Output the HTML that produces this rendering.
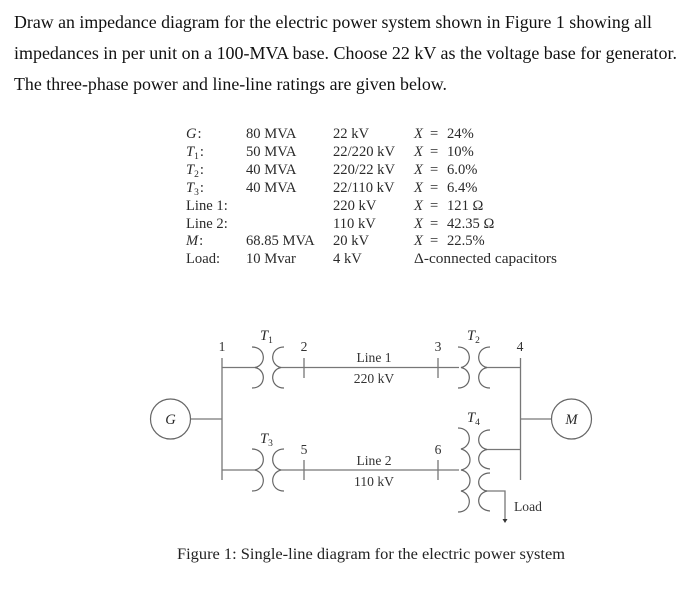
<!DOCTYPE html>
<html><head><meta charset="utf-8"><style>
html,body{margin:0;padding:0;background:#fff}
svg{display:block;filter:blur(0.35px)}
text{font-family:"Liberation Serif",serif;fill:#222}
.t{font-size:17.5px;fill:#111}
.s{font-size:14.6px;fill:#2a2a2a}
.d{font-size:13.6px;fill:#333}
.i{font-style:italic}
.c{fill:none;stroke:#666;stroke-width:1.2}
.l{stroke:#777;stroke-width:1.3;fill:none}
</style></head><body>
<svg width="700" height="603" viewBox="0 0 700 603" xmlns="http://www.w3.org/2000/svg">
<rect width="700" height="603" fill="#fff"/>
<text class="t" x="14" y="28" textLength="638" lengthAdjust="spacingAndGlyphs">Draw an impedance diagram for the electric power system shown in Figure 1 showing all</text>
<text class="t" x="14" y="59" textLength="663" lengthAdjust="spacingAndGlyphs">impedances in per unit on a 100-MVA base. Choose 22 kV as the voltage base for generator.</text>
<text class="t" x="14" y="90" textLength="433" lengthAdjust="spacingAndGlyphs">The three-phase power and line-line ratings are given below.</text>

<g>
<text class="s i" x="186" y="138">G<tspan font-style="normal" dx="1">:</tspan></text>
<text class="s i" x="186" y="156">T<tspan font-size="9.5" dy="3" font-style="normal">1</tspan><tspan font-style="normal" dy="-3" dx="1">:</tspan></text>
<text class="s i" x="186" y="174">T<tspan font-size="9.5" dy="3" font-style="normal">2</tspan><tspan font-style="normal" dy="-3" dx="1">:</tspan></text>
<text class="s i" x="186" y="192">T<tspan font-size="9.5" dy="3" font-style="normal">3</tspan><tspan font-style="normal" dy="-3" dx="1">:</tspan></text>
<text class="s" x="186" y="210">Line 1:</text>
<text class="s" x="186" y="228">Line 2:</text>
<text class="s i" x="186" y="245">M<tspan font-style="normal" dx="1">:</tspan></text>
<text class="s" x="186" y="263">Load:</text>

<text class="s" x="246" y="138">80 MVA</text>
<text class="s" x="246" y="156">50 MVA</text>
<text class="s" x="246" y="174">40 MVA</text>
<text class="s" x="246" y="192">40 MVA</text>
<text class="s" x="246" y="245">68.85 MVA</text>
<text class="s" x="246" y="263">10 Mvar</text>

<text class="s" x="333" y="138">22 kV</text>
<text class="s" x="333" y="156">22/220 kV</text>
<text class="s" x="333" y="174">220/22 kV</text>
<text class="s" x="333" y="192">22/110 kV</text>
<text class="s" x="333" y="210">220 kV</text>
<text class="s" x="333" y="228">110 kV</text>
<text class="s" x="333" y="245">20 kV</text>
<text class="s" x="333" y="263">4 kV</text>

<text class="s" y="138"><tspan x="414" font-style="italic">X</tspan><tspan x="430">=</tspan><tspan x="447">24%</tspan></text>
<text class="s" y="156"><tspan x="414" font-style="italic">X</tspan><tspan x="430">=</tspan><tspan x="447">10%</tspan></text>
<text class="s" y="174"><tspan x="414" font-style="italic">X</tspan><tspan x="430">=</tspan><tspan x="447">6.0%</tspan></text>
<text class="s" y="192"><tspan x="414" font-style="italic">X</tspan><tspan x="430">=</tspan><tspan x="447">6.4%</tspan></text>
<text class="s" y="210"><tspan x="414" font-style="italic">X</tspan><tspan x="430">=</tspan><tspan x="447">121 Ω</tspan></text>
<text class="s" y="228"><tspan x="414" font-style="italic">X</tspan><tspan x="430">=</tspan><tspan x="447">42.35 Ω</tspan></text>
<text class="s" y="245"><tspan x="414" font-style="italic">X</tspan><tspan x="430">=</tspan><tspan x="447">22.5%</tspan></text>
<text class="s" x="414" y="263" textLength="143" lengthAdjust="spacingAndGlyphs">Δ-connected capacitors</text>
</g>

<!-- Generator and motor -->
<circle class="c" cx="170.5" cy="419" r="20"/>
<circle class="c" cx="571.5" cy="419" r="20"/>
<text class="s i" x="170.5" y="424" text-anchor="middle">G</text>
<text class="s i" x="571.5" y="424" text-anchor="middle">M</text>

<!-- Buses and connecting lines -->
<path class="l" d="M191 419H222M222 358V480M222 367.5H256M222 470H256"/>
<path class="l" d="M281 367.5H459M281 470H459M304 358V378M304 460V480M438 358V378M438 460V480"/>
<path class="l" d="M486 367.5H520.5M486 449.5H520.5M520.5 358V480M520.5 419H551"/>
<path class="l" d="M486 491H505V519"/>
<path d="M502.5 519H507.5L505 523Z" fill="#333"/>

<!-- T1 -->
<path class="c" d="M252 347C266 347 267 365 255 367.5C267 370 266 388 252 388"/>
<path class="c" d="M284 347C270 347 269 365 281 367.5C269 370 270 388 284 388"/>
<!-- T3 -->
<path class="c" d="M252 449C266 449 267 467 255 470C267 473 266 491 252 491"/>
<path class="c" d="M284 449C270 449 269 467 281 470C269 473 270 491 284 491"/>
<!-- T2 -->
<path class="c" d="M458 347C472 347 473 365 461 367.5C473 370 472 388 458 388"/>
<path class="c" d="M490 347C476 347 475 365 487 367.5C475 370 476 388 490 388"/>
<!-- T4 -->
<path class="c" d="M458 428C472 428 473 446 461 449C473 452 473 468 461 470C473 472 473 489 461 491C473 494 472 512 458 512"/>
<path class="c" d="M490 430C476 430 475 447 487 449.5C475 452 476 468 490 469"/>
<path class="c" d="M490 473C476 473 475 489 487 491C475 494 476 510 490 511"/>

<!-- Labels -->
<text class="s i" x="260" y="340">T<tspan font-size="9.5" dy="3" font-style="normal">1</tspan></text>
<text class="s i" x="260" y="443">T<tspan font-size="9.5" dy="3" font-style="normal">3</tspan></text>
<text class="s i" x="467" y="340">T<tspan font-size="9.5" dy="3" font-style="normal">2</tspan></text>
<text class="s i" x="467" y="422">T<tspan font-size="9.5" dy="3" font-style="normal">4</tspan></text>
<text class="d" x="222" y="351" text-anchor="middle">1</text>
<text class="d" x="304" y="351" text-anchor="middle">2</text>
<text class="d" x="438" y="351" text-anchor="middle">3</text>
<text class="d" x="520" y="351" text-anchor="middle">4</text>
<text class="d" x="304" y="454" text-anchor="middle">5</text>
<text class="d" x="438" y="454" text-anchor="middle">6</text>
<text class="d" x="374" y="362" text-anchor="middle">Line 1</text>
<text class="d" x="374" y="383" text-anchor="middle">220 kV</text>
<text class="d" x="374" y="465" text-anchor="middle">Line 2</text>
<text class="d" x="374" y="486" text-anchor="middle">110 kV</text>
<text class="d" x="514" y="511">Load</text>

<text x="177" y="559" font-size="16" fill="#222" textLength="388" lengthAdjust="spacingAndGlyphs">Figure 1: Single-line diagram for the electric power system</text>
</svg>
</body></html>
